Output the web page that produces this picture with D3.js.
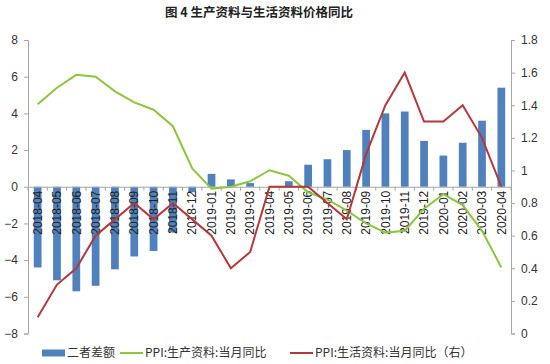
<!DOCTYPE html>
<html>
<head>
<meta charset="utf-8">
<script src="https://cdn.jsdelivr.net/npm/d3@7"></script>
<style>
  body { margin: 0; background: #fff; }
  text { font-family: "Noto Sans CJK SC", "DejaVu Sans", sans-serif; }
</style>
</head>
<body>
<div id="chart"></div>
<script>
// categories
var months = ["2018-04","2018-05","2018-06","2018-07","2018-08","2018-09","2018-10","2018-11","2018-12",
  "2019-01","2019-02","2019-03","2019-04","2019-05","2019-06","2019-07","2019-08","2019-09","2019-10",
  "2019-11","2019-12","2020-01","2020-02","2020-03","2020-04"];
// 二者差额 (left axis)
var diffValues = [-4.4,-5.1,-5.7,-5.4,-4.5,-3.8,-3.5,-2.5,-0.3,0.7,0.4,0.2,0,0.3,1.2,1.5,2.0,3.1,4.0,4.1,2.5,1.7,2.4,3.6,5.4];
// PPI:生产资料:当月同比 (left axis)
var prodValues = [4.5,5.4,6.1,6.0,5.2,4.6,4.2,3.3,1.0,-0.1,0.0,0.3,0.9,0.6,-0.3,-0.7,-1.3,-2.0,-2.5,-2.4,-1.2,-0.4,-1.0,-2.4,-4.4];
// PPI:生活资料:当月同比 (right axis)
var lifeValues = [0.1,0.3,0.4,0.6,0.7,0.8,0.7,0.8,0.7,0.6,0.4,0.5,0.9,0.9,0.9,0.8,0.7,1.1,1.4,1.6,1.3,1.3,1.4,1.2,0.9];
var leftTicks = [-8,-6,-4,-2,0,2,4,6,8];
var rightTicks = [0,0.2,0.4,0.6,0.8,1,1.2,1.4,1.6,1.8];

var width = 550, height = 364;
var plotLeft = 28, plotRight = 511, plotTop = 40, plotBottom = 333.5;

var svg = d3.select("#chart").append("svg")
  .attr("width", width)
  .attr("height", height);

var x = d3.scaleBand().domain(months).range([plotLeft, plotRight]).paddingInner(0.6).paddingOuter(0.3);
var yL = d3.scaleLinear().domain([-8, 8]).range([plotBottom, plotTop]);
var yR = d3.scaleLinear().domain([0, 1.8]).range([plotBottom, plotTop]);

// title
svg.append("text")
  .attr("x", 259).attr("y", 17)
  .attr("text-anchor", "middle")
  .style("font-size", "12.5px")
  .style("font-weight", "bold")
  .attr("fill", "#222")
  .text("图 4  生产资料与生活资料价格同比");

// bars
svg.selectAll(".bar")
  .data(diffValues)
  .enter()
  .append("rect")
  .attr("class", "bar")
  .attr("x", function(d, i) { return x(months[i]); })
  .attr("width", x.bandwidth())
  .attr("y", function(d) { return yL(Math.max(0, d)); })
  .attr("height", function(d) { return Math.abs(yL(d) - yL(0)); })
  .attr("fill", "#4f81bd");

// left axis
var axisL = svg.append("g")
  .attr("transform", "translate(" + plotLeft + ",0)")
  .call(d3.axisLeft(yL).tickValues(leftTicks).tickSize(4).tickPadding(6));
// right axis
var axisR = svg.append("g")
  .attr("transform", "translate(" + plotRight + ",0)")
  .call(d3.axisRight(yR).tickValues(rightTicks).tickSize(4).tickPadding(6)
    .tickFormat(function(d) { return d3.format("~g")(d); }));

[axisL, axisR].forEach(function(a) {
  a.select(".domain").attr("stroke", "#a6a6a6");
  a.selectAll(".tick line").attr("stroke", "#a6a6a6");
  a.selectAll("text").style("font-size", "12px").attr("fill", "#333")
    .style("font-family", "'Liberation Sans', Arial, sans-serif");
});

// zero line with category ticks
var axisX = svg.append("g")
  .attr("transform", "translate(0," + yL(0) + ")")
  .call(d3.axisBottom(x).tickSize(0).tickPadding(0));
axisX.select(".domain").attr("stroke", "#a6a6a6");
axisX.selectAll(".tick text")
  .attr("transform", "rotate(-90)")
  .attr("x", -4)
  .attr("y", 0)
  .attr("dy", "0.35em")
  .attr("text-anchor", "end")
  .attr("fill", "#222")
  .style("font-size", "12px")
  .style("font-family", "'Liberation Sans', Arial, sans-serif");
var step = x.step();
svg.append("g").selectAll("line")
  .data(months.concat(["end"]))
  .enter()
  .append("line")
  .attr("x1", function(d, i) { return plotLeft + i * step; })
  .attr("x2", function(d, i) { return plotLeft + i * step; })
  .attr("y1", yL(0)).attr("y2", yL(0) + 4)
  .attr("stroke", "#a6a6a6");

// lines
var lineL = d3.line()
  .x(function(d, i) { return x(months[i]) + x.bandwidth() / 2; })
  .y(function(d) { return yL(d); });
var lineR = d3.line()
  .x(function(d, i) { return x(months[i]) + x.bandwidth() / 2; })
  .y(function(d) { return yR(d); });

svg.append("path").datum(prodValues)
  .attr("d", lineL).attr("fill", "none")
  .attr("stroke", "#8cc63f").attr("stroke-width", 2);
svg.append("path").datum(lifeValues)
  .attr("d", lineR).attr("fill", "none")
  .attr("stroke", "#b5373a").attr("stroke-width", 2);

// legend
var legendData = [
  {name: "二者差额", type: "rect", color: "#4f81bd", x: 42},
  {name: "PPI:生产资料:当月同比", type: "line", color: "#8cc63f", x: 120},
  {name: "PPI:生活资料:当月同比（右）", type: "line", color: "#b5373a", x: 290}
];
var legend = svg.selectAll(".legend")
  .data(legendData)
  .enter()
  .append("g")
  .attr("class", "legend")
  .attr("transform", function(d) { return "translate(" + d.x + ",353)"; });
legend.each(function(d) {
  var g = d3.select(this);
  if (d.type === "rect") {
    g.append("rect").attr("x", 0).attr("y", -3.5).attr("width", 23).attr("height", 7).attr("fill", d.color);
  } else {
    g.append("line").attr("x1", 0).attr("x2", 23).attr("y1", 0).attr("y2", 0)
      .attr("stroke", d.color).attr("stroke-width", 2);
  }
});
legend.append("text")
  .attr("x", 25)
  .attr("y", 0)
  .attr("dy", "0.35em")
  .attr("fill", "#333")
  .style("font-size", "12px")
  .text(function(d) { return d.name; });
</script>
</body>
</html>
